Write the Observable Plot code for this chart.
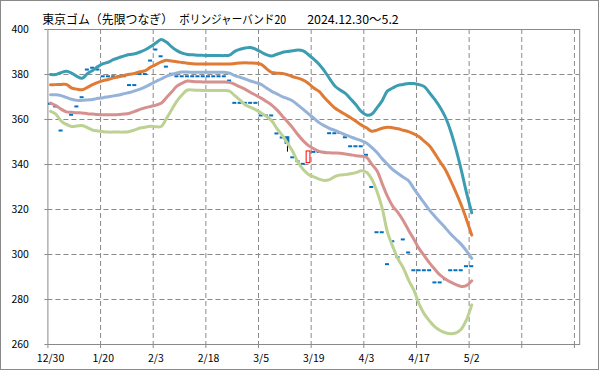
<!DOCTYPE html>
<html><head><meta charset="utf-8">
<script src="https://cdn.jsdelivr.net/npm/d3@7"></script>
<script src="https://cdn.jsdelivr.net/npm/@observablehq/plot@0.6"></script>
<style>
html,body{margin:0;padding:0;background:#fff}
#chart svg{display:block}
</style></head><body><div id="chart"></div>
<script>
// trading days 2024.12.30 – 2025.5.2
const dates = ["12/30","1/6","1/7","1/8","1/9","1/10","1/14","1/15","1/16","1/17",
"1/20","1/21","1/22","1/23","1/24","1/27","1/28","1/29","1/30","1/31",
"2/3","2/4","2/5","2/6","2/7","2/10","2/12","2/13","2/14","2/17",
"2/18","2/19","2/20","2/21","2/25","2/26","2/27","2/28","3/3","3/4",
"3/5","3/6","3/7","3/10","3/11","3/12","3/13","3/14","3/17","3/18",
"3/19","3/21","3/24","3/25","3/26","3/27","3/28","3/31","4/1","4/2",
"4/3","4/4","4/7","4/8","4/9","4/10","4/11","4/14","4/15","4/16",
"4/17","4/18","4/21","4/22","4/23","4/24","4/25","4/28","4/30","5/1","5/2"];

// daily close (yen/kg)
const closes = [367.0,365.8,355.1,358.0,362.1,365.8,369.9,382.2,383.0,382.2,
379.2,379.2,379.2,379.2,379.2,375.3,375.3,380.2,380.2,386.2,
391.1,388.1,383.5,380.3,379.2,379.2,379.2,379.2,379.2,379.2,
379.2,379.2,379.2,379.2,377.3,367.4,367.4,367.4,367.4,367.4,
361.8,361.8,361.8,353.8,352.0,349.2,343.2,341.5,340.3,345.8,
345.6,345.6,345.6,353.9,353.9,354.0,352.1,348.1,348.1,348.1,
344.3,330.0,309.9,309.9,295.7,305.9,298.8,306.7,300.9,293.0,
293.0,293.0,293.0,287.6,287.6,289.0,293.0,293.0,293.0,294.8,294.8];

// days with a visible candle body
const bodyDates = ["3/12","3/18"];
const bodyOpen  = [352.1, 340.6];
const bodyHigh  = [352.1, 345.8];
const bodyLow   = [345.5, 340.6];

// Bollinger band (20)
const upper2 = [380.0,380.0,380.8,381.4,380.6,379.2,378.3,380.4,381.8,383.5,
384.8,385.5,386.7,387.5,388.3,388.9,389.2,390.0,391.0,392.4,
394.0,395.6,394.4,392.3,390.6,389.5,388.9,388.8,388.6,388.5,
388.4,388.4,388.4,388.4,388.6,390.3,391.2,391.8,392.0,391.2,
390.0,388.8,388.2,389.0,389.8,390.2,390.6,390.9,390.5,388.8,
386.8,384.6,381.6,378.2,374.9,373.1,371.6,369.1,366.6,363.6,
362.0,362.4,365.2,368.4,372.7,374.0,375.2,375.6,376.0,376.0,
375.5,374.6,371.8,368.8,365.3,361.0,354.8,346.8,337.6,327.5,318.5];
const upper1 = [375.4,375.5,375.6,375.6,374.0,373.5,373.2,374.3,375.5,376.5,
377.3,377.8,378.5,379.0,379.6,380.1,380.5,381.2,381.7,383.3,
384.4,385.6,386.3,386.0,385.7,385.3,385.0,384.8,384.7,384.7,
384.7,384.7,384.7,384.7,384.7,384.9,385.1,385.2,385.1,385.0,
384.5,382.6,380.9,380.6,380.5,379.9,379.0,378.4,377.5,376.0,
374.0,372.5,369.8,367.4,365.1,363.6,362.2,360.8,359.2,357.6,
356.3,354.8,355.3,356.1,356.6,356.3,355.9,355.2,354.6,353.6,
352.3,350.3,348.2,344.8,341.2,337.7,332.8,327.6,322.0,315.6,308.6];
const middle = [371.0,371.0,370.6,369.8,369.0,368.5,368.5,368.7,368.9,369.4,
369.7,370.1,370.5,370.9,371.5,372.0,372.7,373.5,374.5,375.7,
376.9,378.0,379.2,380.0,380.7,381.1,381.1,381.0,381.0,381.0,
381.0,381.0,381.0,381.0,380.6,379.5,378.8,378.0,377.1,376.4,
375.6,374.0,372.5,371.4,370.2,369.3,368.2,366.4,364.5,362.5,
360.6,358.6,357.2,356.0,355.2,354.2,353.2,352.3,351.4,350.6,
349.6,347.6,345.3,342.5,340.1,337.7,336.0,334.3,332.8,329.3,
326.0,322.8,319.6,316.9,314.3,311.8,309.1,306.8,304.5,301.6,298.3];
const lower1 = [367.3,366.2,364.6,363.4,363.2,363.0,362.9,362.6,362.4,362.2,
362.1,362.1,362.1,362.2,362.4,362.8,363.6,364.5,365.2,365.8,
366.4,367.2,369.7,372.2,374.8,376.2,377.1,376.9,376.8,376.7,
376.7,376.7,376.7,376.7,376.5,375.6,374.5,373.4,372.0,370.8,
369.5,368.0,366.4,364.3,361.6,359.0,356.3,353.2,350.5,348.4,
347.0,345.8,345.3,345.2,345.1,345.0,344.7,344.3,343.9,343.7,
343.2,340.2,337.2,331.4,325.8,321.4,318.6,315.0,310.8,306.8,
302.6,299.4,296.2,293.4,290.8,289.1,287.7,286.6,285.8,286.2,288.3];
const lower2 = [363.6,362.4,359.4,357.8,356.9,357.1,357.3,356.4,355.3,354.9,
354.6,354.4,354.4,354.4,354.4,354.7,355.4,356.2,356.6,357.0,
356.8,356.9,360.4,364.3,368.2,371.0,373.1,373.1,373.0,372.9,
372.9,372.9,372.9,372.9,372.6,370.6,368.6,366.5,365.4,364.3,
362.9,361.4,359.5,356.0,353.0,349.5,345.8,341.0,337.8,335.6,
334.5,333.5,332.9,333.3,334.6,335.3,335.5,335.9,336.4,337.2,
336.6,333.6,328.0,320.5,309.8,303.5,298.0,294.0,288.6,284.2,
278.0,273.5,270.4,267.8,266.2,265.2,264.8,265.2,266.8,271.0,277.6];

const yTicks = [260,280,300,320,340,360,380,400];
const labelDays = ["12/30","1/20","2/3","2/18","3/5","3/19","4/3","4/17","5/2"];
const titleMain = "東京ゴム（先限つなぎ）";
const titleSub = "ボリンジャーバンド20";
const titlePeriod = "2024.12.30～5.2";

const seriesColors = ["#3C9CB2","#E07B36","#95B2D8","#D6918F","#BDD292"];
const seriesValues = [upper2, upper1, middle, lower1, lower2];

// build tables
const nSlots = 101; // category slots on the axis
const dayIndex = new Map(dates.map((d,i)=>[d,i]));
const dashData = closes.map((c,i)=>({i,c})).filter(d=>!bodyDates.includes(dates[d.i]));
const bodyData = bodyDates.map((d,k)=>{const i=dayIndex.get(d);return {i,o:bodyOpen[k],c:closes[i],h:bodyHigh[k],l:bodyLow[k]};});
const boundaryTicks = d3.range(0, nSlots, 10).map(k=>k-0.5);
const gridX = boundaryTicks.slice(1);
const gridY = yTicks.slice(1, -1);
const labelIdx = labelDays.map(d=>dayIndex.get(d));

const font = "'Noto Sans CJK JP', 'Liberation Sans', sans-serif";
const grayLine = "#8a8a8a";

const chart = Plot.plot({
  width: 599, height: 370,
  marginLeft: 47.4, marginRight: 19.8, marginTop: 29, marginBottom: 26,
  style: {background: "#fff", fontFamily: font, overflow: "visible"},
  x: {type: "linear", domain: [-0.5, nSlots - 0.5], label: null},
  y: {domain: [260, 400], label: null},
  marks: [
    Plot.ruleY(gridY, {stroke: grayLine, strokeDasharray: "5,3"}),
    Plot.ruleX(gridX, {stroke: grayLine, strokeDasharray: "5,3"}),
    Plot.frame({stroke: grayLine}),
    Plot.axisY({ticks: yTicks, tickSize: 3, tickPadding: 16, fontSize: 10.5, stroke: grayLine, fill: "#000", label: null, tickFormat: d=>String(d)}),
    Plot.axisX({ticks: boundaryTicks, tickSize: 4, tickFormat: ()=>"", stroke: grayLine, label: null}),
    Plot.axisX({ticks: labelIdx, tickSize: 0, tickPadding: 10, fontSize: 10.5, fill: "#000", label: null, tickFormat: i=>dates[i]}),
    Plot.ruleY(dashData, {y: "c", x1: d=>d.i-0.38, x2: d=>d.i+0.38, stroke: "#0070C0", strokeWidth: 2}),
    Plot.ruleX(bodyData, {x: "i", y1: "l", y2: "h", stroke: "#000"}),
    Plot.rect(bodyData, {x1: d=>d.i-0.36, x2: d=>d.i+0.36, y1: "o", y2: "c",
      fill: d=>d.c>d.o ? "#fff" : "#0070C0", stroke: d=>d.c>d.o ? "#ff0000" : "#0070C0"}),
    ...seriesValues.map((vals,k)=>Plot.line(vals, {x: (d,i)=>i, y: d=>d, stroke: seriesColors[k], strokeWidth: 3, curve: "catmull-rom", strokeLinejoin: "round"})),
    Plot.text([titleMain], {frameAnchor: "top-left", dx: -5.7, dy: -14, textAnchor: "start", fontSize: 12, fill: "#000", className: "t-main"}),
    Plot.text([titleSub], {frameAnchor: "top-left", dx: 131.3, dy: -14, textAnchor: "start", fontSize: 12, fill: "#000", className: "t-sub"}),
    Plot.text([titlePeriod], {frameAnchor: "top-left", dx: 259.3, dy: -14, textAnchor: "start", fontSize: 12, fill: "#000", className: "t-per"})
  ]
});
chart.style.outline = "1px solid #8a8a8a";
chart.style.outlineOffset = "-1px";
d3.select(chart).selectAll(".t-main text").attr("textLength", 131).attr("lengthAdjust", "spacingAndGlyphs");
d3.select(chart).selectAll(".t-sub text").attr("textLength", 107).attr("lengthAdjust", "spacingAndGlyphs");
d3.select(chart).selectAll(".t-per text").attr("textLength", 91.5).attr("lengthAdjust", "spacingAndGlyphs");
document.getElementById("chart").appendChild(chart);
</script></body></html>
